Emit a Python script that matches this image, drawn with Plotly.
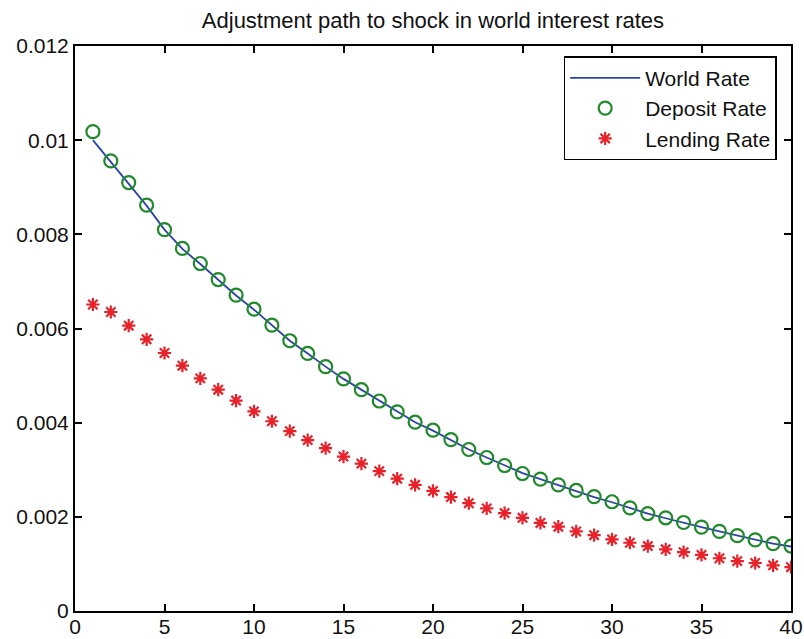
import plotly.graph_objects as go

periods = list(range(1, 41))

world_rate = [0.01000, 0.00953, 0.00908, 0.00861, 0.00810, 0.00769, 0.00737, 0.00703, 0.00670, 0.00640,
              0.00606, 0.00574, 0.00547, 0.00519, 0.00493, 0.00470, 0.00446, 0.00423, 0.00401, 0.00383,
              0.00363, 0.00343, 0.00326, 0.00309, 0.00293, 0.00280, 0.00267, 0.00255, 0.00242, 0.00231,
              0.00219, 0.00207, 0.00197, 0.00187, 0.00178, 0.00169, 0.00160, 0.00151, 0.00143, 0.00137]

deposit_rate = [0.01018, 0.00956, 0.00910, 0.00862, 0.00810, 0.00770, 0.00738, 0.00704, 0.00671, 0.00641,
                0.00607, 0.00574, 0.00547, 0.00519, 0.00493, 0.00470, 0.00446, 0.00423, 0.00401, 0.00384,
                0.00364, 0.00343, 0.00326, 0.00309, 0.00292, 0.00280, 0.00268, 0.00256, 0.00243, 0.00232,
                0.00219, 0.00207, 0.00198, 0.00188, 0.00178, 0.00169, 0.00160, 0.00151, 0.00143, 0.00138]

lending_rate = [0.00651, 0.00635, 0.00606, 0.00577, 0.00548, 0.00521, 0.00494, 0.00470, 0.00447, 0.00424,
                0.00403, 0.00382, 0.00363, 0.00346, 0.00328, 0.00313, 0.00297, 0.00281, 0.00268, 0.00255,
                0.00242, 0.00229, 0.00218, 0.00208, 0.00198, 0.00187, 0.00179, 0.00169, 0.00161, 0.00152,
                0.00145, 0.00138, 0.00131, 0.00125, 0.00119, 0.00112, 0.00106, 0.00102, 0.00097, 0.00093]

x_ticks = [0, 5, 10, 15, 20, 25, 30, 35, 40]
y_ticks = [0, 0.002, 0.004, 0.006, 0.008, 0.010, 0.012]
y_tick_labels = ["0", "0.002", "0.004", "0.006", "0.008", "0.01", "0.012"]

FONT = "Liberation Sans, Arial, Helvetica, sans-serif"

fig = go.Figure()
fig.add_trace(go.Scatter(
    x=periods, y=world_rate, mode="lines", name="World Rate",
    line=dict(color="#2a44a8", width=1.8),
))
fig.add_trace(go.Scatter(
    x=periods, y=deposit_rate, mode="markers", name="Deposit Rate",
    marker=dict(symbol="circle-open", size=13, color="#1f8a2a",
                line=dict(color="#1f8a2a", width=2.2)),
))
fig.add_trace(go.Scatter(
    x=periods, y=lending_rate, mode="markers", name="Lending Rate",
    marker=dict(symbol="asterisk-open", size=11, color="#e8222a",
                line=dict(color="#e8222a", width=2.2)),
))

axis_common = dict(
    showline=True, linecolor="black", linewidth=2, mirror="ticks",
    ticks="inside", ticklen=7, tickwidth=1.5, tickcolor="black",
    showgrid=False, zeroline=False, automargin=False,
    tickfont=dict(family=FONT, size=21, color="#111111"),
)

fig.update_layout(
    width=804, height=639,
    margin=dict(l=75, r=13, t=46, b=28),
    paper_bgcolor="white", plot_bgcolor="white",
    title=dict(text="Adjustment path to shock in world interest rates",
               x=0.5385, xanchor="center", y=0.968, yanchor="middle",
               font=dict(family=FONT, size=22, color="#111111")),
    xaxis=dict(range=[0, 40], tickvals=x_ticks, ticktext=[str(v) for v in x_ticks],
               ticklabelstandoff=-4, **axis_common),
    yaxis=dict(range=[0, 0.012], tickvals=y_ticks, ticktext=y_tick_labels, **axis_common),
    legend=dict(x=0.98, y=0.982, xanchor="right", yanchor="top",
                bordercolor="black", borderwidth=1.5, bgcolor="white",
                font=dict(family=FONT, size=21, color="#111111"),
                itemwidth=70, tracegroupgap=0),
    showlegend=True,
)

fig.write_html("out.html")
